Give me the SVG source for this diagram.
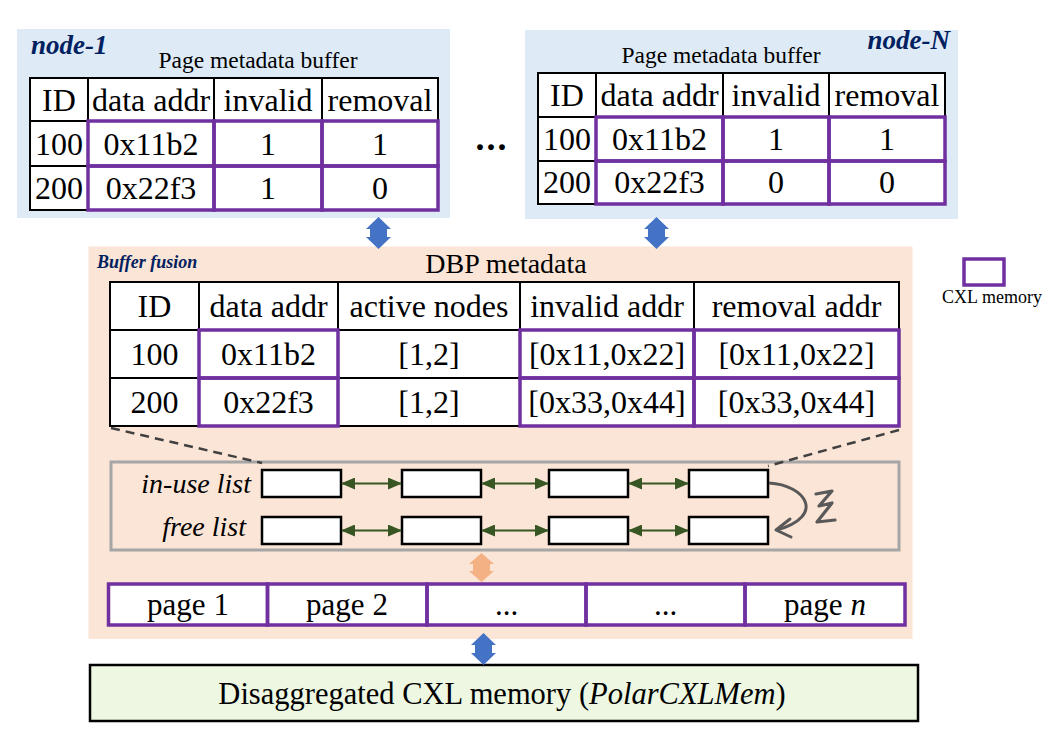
<svg xmlns="http://www.w3.org/2000/svg" width="1051" height="746" viewBox="0 0 1051 746">
<defs>
<style>
.t{font-family:"Liberation Serif","Times New Roman",serif;fill:#000;text-anchor:middle}
.tb{font-size:32px}
.cell{fill:#fff;stroke:#000;stroke-width:2}
.pc{fill:none;stroke:#7030A0;stroke-width:3.5}
.navy{font-family:"Liberation Serif","Times New Roman",serif;font-weight:bold;font-style:italic;fill:#002060}
.box{fill:#fff;stroke:#000;stroke-width:2.5}
.gl{stroke:#375623;stroke-width:2;fill:none;marker-start:url(#ga);marker-end:url(#ga)}
.dash{stroke:#404040;stroke-width:2.5;stroke-dasharray:9 6;fill:none}
</style>
<marker id="ga" viewBox="0 0 14 12" refX="13" refY="6" markerWidth="14" markerHeight="12" markerUnits="userSpaceOnUse" orient="auto-start-reverse">
<path d="M0,0 L14,6 L0,12 Z" fill="#375623"/>
</marker>
<path id="dbl" d="M0,-16 L12.5,-4 L8.5,-4 L8.5,4 L12.5,4 L0,16 L-12.5,4 L-8.5,4 L-8.5,-4 L-12.5,-4 Z"/>
</defs>
<rect width="1051" height="746" fill="#fff"/>

<g id="node-1">
<rect x="17" y="29" width="433" height="189" fill="#DEEBF7"/>
<text class="navy" x="31" y="54" font-size="27">node-1</text>
<text class="t" x="258" y="68" font-size="23.5">Page metadata buffer</text>
<rect class="cell" x="30" y="78" width="58" height="43"/>
<rect class="cell" x="88" y="78" width="126" height="43"/>
<rect class="cell" x="214" y="78" width="108" height="43"/>
<rect class="cell" x="322" y="78" width="116" height="43"/>
<rect class="cell" x="30" y="121" width="58" height="45"/>
<rect class="cell" x="30" y="166" width="58" height="44"/>
<rect class="cell" x="88" y="121" width="350" height="89"/>
<rect class="pc" x="88" y="121" width="126" height="45"/>
<rect class="pc" x="214" y="121" width="108" height="45"/>
<rect class="pc" x="322" y="121" width="116" height="45"/>
<rect class="pc" x="88" y="166" width="126" height="44"/>
<rect class="pc" x="214" y="166" width="108" height="44"/>
<rect class="pc" x="322" y="166" width="116" height="44"/>
<g class="t tb">
<text x="59" y="111">ID</text><text x="151" y="111">data addr</text><text x="268" y="111">invalid</text><text x="380" y="111">removal</text>
<text x="59" y="155">100</text><text x="151" y="155">0x11b2</text><text x="268" y="155">1</text><text x="380" y="155">1</text>
<text x="59" y="199">200</text><text x="151" y="199">0x22f3</text><text x="268" y="199">1</text><text x="380" y="199">0</text>
</g>
</g>

<g id="ellipsis">
<text class="t" x="492" y="150" font-size="36" font-weight="bold" letter-spacing="2">...</text>
</g>

<g id="node-N">
<rect x="525" y="30" width="433" height="189" fill="#DEEBF7"/>
<text class="navy" x="950" y="49" font-size="27" text-anchor="end">node-N</text>
<text class="t" x="721" y="63" font-size="23.5">Page metadata buffer</text>
<rect class="cell" x="538" y="73" width="58" height="44"/>
<rect class="cell" x="596" y="73" width="127" height="44"/>
<rect class="cell" x="723" y="73" width="106" height="44"/>
<rect class="cell" x="829" y="73" width="116" height="44"/>
<rect class="cell" x="538" y="117" width="58" height="44"/>
<rect class="cell" x="538" y="161" width="58" height="43"/>
<rect class="cell" x="596" y="117" width="349" height="87"/>
<rect class="pc" x="596" y="117" width="127" height="44"/>
<rect class="pc" x="723" y="117" width="106" height="44"/>
<rect class="pc" x="829" y="117" width="116" height="44"/>
<rect class="pc" x="596" y="161" width="127" height="43"/>
<rect class="pc" x="723" y="161" width="106" height="43"/>
<rect class="pc" x="829" y="161" width="116" height="43"/>
<g class="t tb">
<text x="567" y="106">ID</text><text x="659.5" y="106">data addr</text><text x="776" y="106">invalid</text><text x="887" y="106">removal</text>
<text x="567" y="150">100</text><text x="659.5" y="150">0x11b2</text><text x="776" y="150">1</text><text x="887" y="150">1</text>
<text x="567" y="193">200</text><text x="659.5" y="193">0x22f3</text><text x="776" y="193">0</text><text x="887" y="193">0</text>
</g>
</g>

<g id="buffer-fusion">
<rect x="88.5" y="246.5" width="824" height="392.5" fill="#FBE5D6"/>
<text class="navy" x="97" y="268" font-size="18">Buffer fusion</text>
<text class="t" x="506" y="273" font-size="28">DBP metadata</text>
</g>

<g id="dbp-table">
<rect class="cell" x="110" y="282" width="89" height="48"/>
<rect class="cell" x="199" y="282" width="139" height="48"/>
<rect class="cell" x="338" y="282" width="182" height="48"/>
<rect class="cell" x="520" y="282" width="174" height="48"/>
<rect class="cell" x="694" y="282" width="205" height="48"/>
<rect class="cell" x="110" y="330" width="89" height="48"/>
<rect class="cell" x="110" y="378" width="89" height="48"/>
<rect class="cell" x="199" y="330" width="700" height="96"/>
<rect class="cell" x="338" y="330" width="182" height="48"/>
<rect class="cell" x="338" y="378" width="182" height="48"/>
<rect class="pc" x="199" y="330" width="139" height="48"/>
<rect class="pc" x="199" y="378" width="139" height="48"/>
<rect class="pc" x="520" y="330" width="174" height="48"/>
<rect class="pc" x="520" y="378" width="174" height="48"/>
<rect class="pc" x="694" y="330" width="205" height="48"/>
<rect class="pc" x="694" y="378" width="205" height="48"/>
<g class="t tb">
<text x="154.5" y="317">ID</text><text x="268.5" y="317">data addr</text><text x="429" y="317">active nodes</text><text x="607" y="317">invalid addr</text><text x="796.5" y="317">removal addr</text>
<text x="154.5" y="365">100</text><text x="268.5" y="365">0x11b2</text><text x="429" y="365">[1,2]</text><text x="607" y="365">[0x11,0x22]</text><text x="796.5" y="365">[0x11,0x22]</text>
<text x="154.5" y="413">200</text><text x="268.5" y="413">0x22f3</text><text x="429" y="413">[1,2]</text><text x="607" y="413">[0x33,0x44]</text><text x="796.5" y="413">[0x33,0x44]</text>
</g>
</g>

<g id="lists">
<rect x="111" y="462" width="788" height="88" fill="none" stroke="#A6A6A6" stroke-width="3"/>
<g class="t" font-size="28" font-style="italic">
<text x="251" y="493" text-anchor="end">in-use list</text>
<text x="246" y="536" text-anchor="end">free list</text>
</g>
<rect class="box" x="262" y="470" width="79" height="27"/>
<rect class="box" x="402" y="470" width="79" height="27"/>
<rect class="box" x="549" y="470" width="79" height="27"/>
<rect class="box" x="689" y="470" width="79" height="27"/>
<rect class="box" x="262" y="517" width="79" height="27"/>
<rect class="box" x="402" y="517" width="79" height="27"/>
<rect class="box" x="549" y="517" width="79" height="27"/>
<rect class="box" x="689" y="517" width="79" height="27"/>
</g>

<g id="pages">
<rect x="108.5" y="584" width="796.5" height="41" fill="#fff"/>
<rect class="pc" x="108.5" y="584" width="159" height="41"/>
<rect class="pc" x="267.5" y="584" width="159.5" height="41"/>
<rect class="pc" x="427" y="584" width="159" height="41"/>
<rect class="pc" x="586" y="584" width="159" height="41"/>
<rect class="pc" x="745" y="584" width="160" height="41"/>
<g class="t" font-size="31">
<text x="188" y="615">page 1</text>
<text x="347" y="615">page 2</text>
<text x="506.5" y="615">...</text>
<text x="665.5" y="615">...</text>
<text x="825" y="615">page <tspan font-style="italic">n</tspan></text>
</g>
</g>

<g id="legend">
<rect x="964" y="259" width="40" height="26" fill="#fff" stroke="#7030A0" stroke-width="3.5"/>
<text class="t" x="992" y="303" font-size="18">CXL memory</text>
</g>

<g id="cxl-memory">
<rect x="90" y="665" width="828" height="56" fill="#EDF7E1" stroke="#000" stroke-width="2.5"/>
<text class="t" x="502" y="704" font-size="30.5">Disaggregated CXL memory (<tspan font-style="italic">PolarCXLMem</tspan>)</text>
</g>

<g id="connectors">
<use href="#dbl" transform="translate(378.5,233)" fill="#4472C4"/>
<use href="#dbl" transform="translate(656.5,233)" fill="#4472C4"/>
<use href="#dbl" transform="translate(483.5,649)" fill="#4472C4"/>
<use href="#dbl" transform="translate(481.5,567.5) scale(1,0.9)" fill="#F4B183"/>
<line class="dash" x1="111" y1="428" x2="262" y2="463"/>
<line class="dash" x1="899" y1="430" x2="768" y2="466"/>
<line class="gl" x1="342" y1="483.5" x2="401" y2="483.5"/>
<line class="gl" x1="482" y1="483.5" x2="548" y2="483.5"/>
<line class="gl" x1="629" y1="483.5" x2="688" y2="483.5"/>
<line class="gl" x1="342" y1="530.5" x2="401" y2="530.5"/>
<line class="gl" x1="482" y1="530.5" x2="548" y2="530.5"/>
<line class="gl" x1="629" y1="530.5" x2="688" y2="530.5"/>
<path d="M769,483 C806,485 826,516 777,530" fill="none" stroke="#595959" stroke-width="3"/>
<path d="M790,519 L776,530 L791,537" fill="none" stroke="#595959" stroke-width="3" stroke-linejoin="round" stroke-linecap="round"/>
<path d="M816,494 L832,491 L819,506 L832,503 L817,522 L835,520" fill="none" stroke="#595959" stroke-width="3.2" stroke-linejoin="round" stroke-linecap="round"/>
</g>
</svg>
